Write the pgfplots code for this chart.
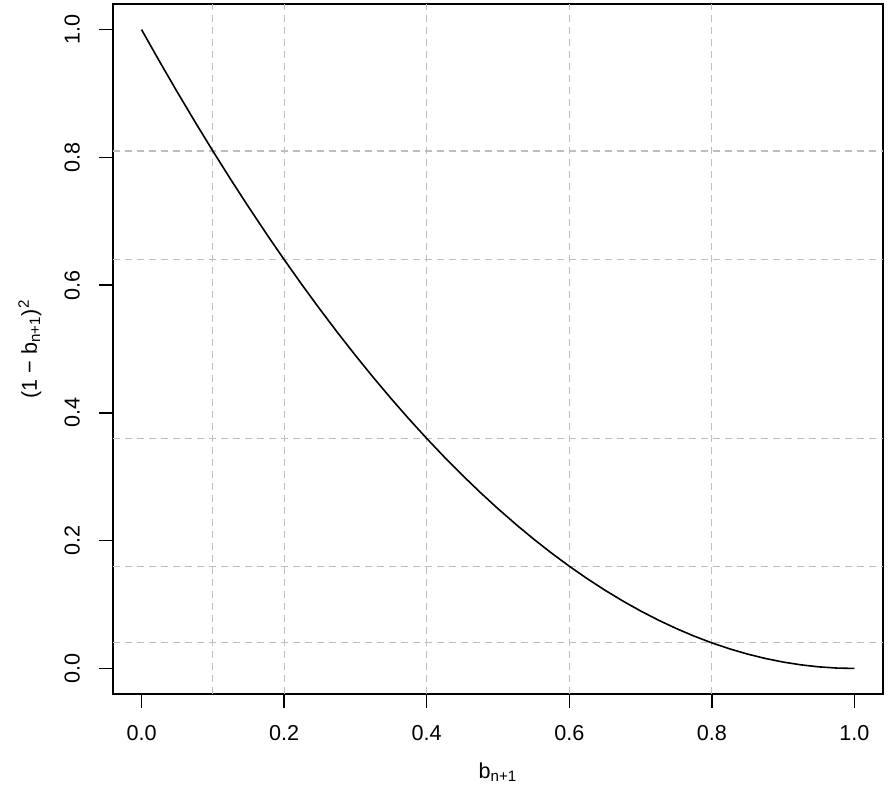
\documentclass[border=0pt]{standalone}
\usepackage{fontspec}
\setmainfont{Liberation Sans}
\usepackage{pgfplots}
\pgfplotsset{compat=1.18}

\definecolor{gridgray}{HTML}{BEBEBE}

\begin{document}
\begin{tikzpicture}
  % page frame: 888x800 px at 0.5pt per px
  \path (0pt,0pt) rectangle (444pt,400pt);
  \begin{axis}[
    at={(56.5pt,53pt)}, anchor=south west,
    scale only axis, width=385pt, height=345pt,
    xmin=-0.04, xmax=1.04, ymin=-0.04, ymax=1.04,
    xtick={0,0.2,0.4,0.6,0.8,1}, ytick={0,0.2,0.4,0.6,0.8,1},
    tick pos=left, tick align=outside, major tick length=7pt,
    tick style={black, line width=0.7pt},
    axis line style={black, line width=0.8pt},
    /pgf/number format/assume math mode=true,
    /pgf/number format/.cd, fixed, fixed zerofill, precision=1, /pgfplots/.cd,
    every tick label/.append style={font=\fontsize{10.8}{12}\selectfont},
    yticklabel style={rotate=90, anchor=south},
    xticklabel shift=5pt, yticklabel shift=6pt,
    extra x ticks={0.1,0.2,0.4,0.6,0.8},
    extra y ticks={0.04,0.16,0.36,0.64,0.81},
    extra x tick labels={}, extra y tick labels={},
    extra tick style={major tick length=0pt, grid=major,
      major grid style={gridgray, line width=0.6pt, dash pattern=on 3.5pt off 2.5pt}},
    xlabel={b\textsubscript{n+1}},
    ylabel={(1 − b\textsubscript{n+1})\textsuperscript{2}},
    label style={font=\fontsize{10.8}{12}\selectfont},
    xlabel style={at={(axis description cs:0.5,-0.113)}, anchor=center},
    ylabel style={at={(axis description cs:-0.108,0.5)}, anchor=center},
    clip=false,
  ]
    \addplot[black, line width=0.8pt] coordinates {
      (0,1) (0.025,0.950625) (0.05,0.9025) (0.075,0.855625) (0.1,0.81)
      (0.125,0.765625) (0.15,0.7225) (0.175,0.680625) (0.2,0.64)
      (0.225,0.600625) (0.25,0.5625) (0.275,0.525625) (0.3,0.49)
      (0.325,0.455625) (0.35,0.4225) (0.375,0.390625) (0.4,0.36)
      (0.425,0.330625) (0.45,0.3025) (0.475,0.275625) (0.5,0.25)
      (0.525,0.225625) (0.55,0.2025) (0.575,0.180625) (0.6,0.16)
      (0.625,0.140625) (0.65,0.1225) (0.675,0.105625) (0.7,0.09)
      (0.725,0.075625) (0.75,0.0625) (0.775,0.050625) (0.8,0.04)
      (0.825,0.030625) (0.85,0.0225) (0.875,0.015625) (0.9,0.01)
      (0.925,0.005625) (0.95,0.0025) (0.975,0.000625) (1,0)
    };
  \end{axis}
\end{tikzpicture}
\end{document}
